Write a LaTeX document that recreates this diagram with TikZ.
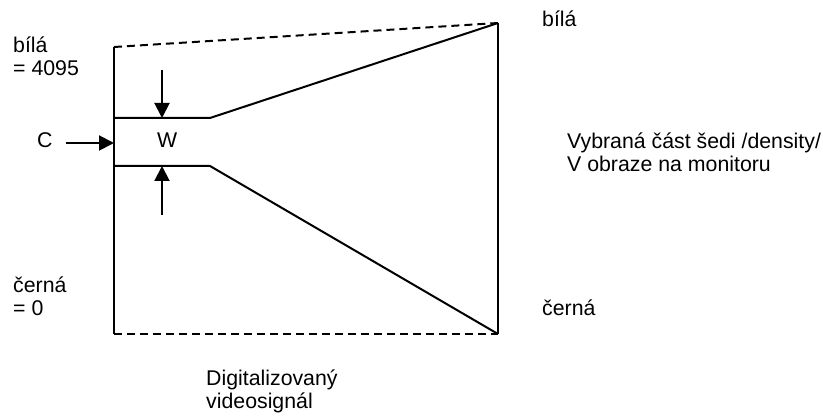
\documentclass[tikz,border=0pt]{standalone}
\usepackage{fontspec}
\setmainfont{Liberation Sans}
\usetikzlibrary{arrows.meta}

\tikzset{
    lbl/.style={anchor=base west, inner sep=0pt, align=left, font=\fontsize{21.3}{23}\selectfont},
    edge/.style={line width=2pt, line join=miter},
    dashedge/.style={line width=2pt, dash pattern=on 8pt off 5pt},
    arr/.style={line width=2pt, -{Triangle[length=15pt,width=15pt]}}
}

\begin{document}
\begin{tikzpicture}[x=1pt,y=-1pt]
        \useasboundingbox (0,0) rectangle (823,419);
        % outline of the window
        \coordinate (lt) at (114,47);
        \coordinate (lb) at (114,334);
        \coordinate (rt) at (498,23);
        \coordinate (rb) at (498,334);
        \coordinate (u1) at (114,118);
        \coordinate (u2) at (210,118);
        \coordinate (l1) at (114,166);
        \coordinate (l2) at (210,166);
        \draw[edge] (lb) -- (lt);
        \draw[edge] (rt) -- (rb);
        \draw[dashedge] (lt) -- (rt);
        \draw[dashedge] (lb) -- (rb);
        \draw[edge] (u1) -- (u2) -- (rt);
        \draw[edge] (l1) -- (l2) -- (rb);
        % width arrows
        \coordinate (wtop) at (162,70);
        \coordinate (wbot) at (162,215);
        \draw[arr] (wtop) -- (wtop |- u1);
        \draw[arr] (wbot) -- (wbot |- l1);
        \node[lbl] (w) at (157,148) {W};
        \node[lbl] (c) at (37,148) {C};
        \draw[arr] ([xshift=13pt]c.east |- 0,143) -- (lt |- 0,143);
        % labels (base = last line)
        \node[lbl] (bila1) at (13,76) {bílá\\= 4095};
        \node[lbl] (cerna1) at (13,316) {černá\\= 0};
        \node[lbl] (bila2) at (542,27) {bílá};
        \node[lbl] (cerna2) at (542,316) {černá};
        \node[lbl] (vybrana) at (567,172) {Vybraná část šedi /density/\\V obraze na monitoru};
        \node[lbl] (signal) at (206,409) {Digitalizovaný\\videosignál};
    \end{tikzpicture}
\end{document}
